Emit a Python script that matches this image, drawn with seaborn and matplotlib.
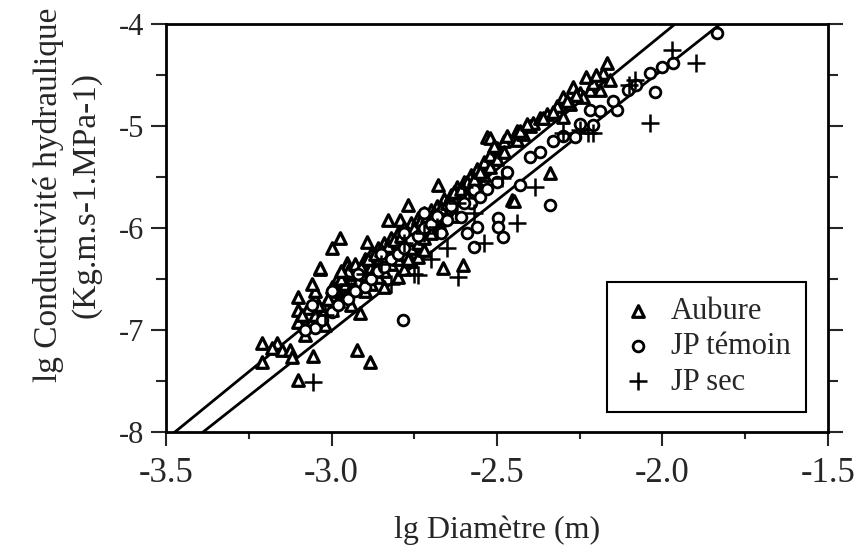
import numpy as np
import pandas as pd
import matplotlib
matplotlib.use("Agg")
import matplotlib.pyplot as plt
import seaborn as sns
from matplotlib.ticker import MultipleLocator

# --- data (lg diameter, lg conductivity) ---
aubure_x = [-3.21, -3.21, -3.165, -3.18, -3.15, -3.125, -3.12, -3.10, -3.10, -3.10, -3.10,
            -3.056, -3.08, -3.08, -3.05, -3.05, -3.05, -3.035, -3.035, -3.02, -3.02,
            -3.00, -3.00, -3.00, -2.998, -2.974, -2.98, -2.98, -2.98, -2.96, -2.96,
            -2.953, -2.953, -2.94, -2.94, -2.94, -2.923, -2.914, -2.92, -2.92,
            -2.90, -2.90, -2.90, -2.893, -2.884, -2.88, -2.88, -2.88, -2.86, -2.86, -2.86,
            -2.84, -2.84, -2.84, -2.84, -2.83, -2.82, -2.82, -2.82, -2.80, -2.80, -2.80, -2.80,
            -2.793, -2.78, -2.78, -2.78, -2.78, -2.769, -2.76, -2.76, -2.76, -2.76,
            -2.74, -2.74, -2.74, -2.74, -2.72, -2.72, -2.72, -2.72, -2.70, -2.70, -2.70,
            -2.678, -2.68, -2.68, -2.66, -2.66, -2.663, -2.64, -2.64, -2.62, -2.62,
            -2.603, -2.60, -2.60, -2.58, -2.58, -2.56, -2.56, -2.53, -2.527, -2.54, -2.54,
            -2.52, -2.52, -2.52, -2.50, -2.50, -2.48, -2.48, -2.455, -2.45, -2.44, -2.44,
            -2.42, -2.40, -2.39, -2.37, -2.34, -2.35, -2.32, -2.30, -2.30, -2.28, -2.27,
            -2.25, -2.22, -2.19, -2.18, -2.168, -2.16, -2.24, -2.21, -2.23,
            -3.07, -3.04, -3.01, -2.99, -2.97, -2.95, -2.93, -2.91, -2.89, -2.87, -2.85,
            -2.83, -2.81, -2.79, -2.77, -2.75, -2.73, -2.71, -2.69, -2.67, -2.65, -2.63,
            -2.61, -2.59, -2.57, -2.55, -3.09, -3.06, -2.97, -2.87, -2.77, -2.67, -2.63,
            -2.59, -2.51, -2.47, -2.43, -2.41, -2.36, -2.33, -2.29, -2.26, -2.20]
aubure_y = [-7.13, -7.31, -7.13, -7.18, -7.20, -7.20, -7.26, -6.68, -6.80, -6.92, -7.49,
            -7.25, -7.05, -6.95, -6.70, -6.85, -6.62, -6.40, -6.39, -6.75, -6.95,
            -6.58, -6.66, -6.80, -6.20, -6.10, -6.48, -6.62, -6.72, -6.55, -6.68,
            -6.34, -6.36, -6.45, -6.60, -6.75, -7.20, -6.83, -6.40, -6.52,
            -6.30, -6.45, -6.62, -6.14, -7.31, -6.25, -6.38, -6.55, -6.20, -6.32, -6.48,
            -6.15, -6.28, -6.42, -6.58, -5.92, -6.10, -6.22, -6.35, -6.05, -6.18, -6.30, -6.48,
            -5.92, -6.00, -6.12, -6.25, -6.40, -5.77, -5.95, -6.08, -6.20, -6.32,
            -5.90, -6.02, -6.15, -6.28, -5.85, -5.98, -6.10, -6.22, -5.82, -5.95, -6.05,
            -5.58, -5.78, -5.90, -5.72, -5.85, -6.39, -5.68, -5.80, -5.60, -5.72,
            -6.36, -5.55, -5.65, -5.48, -5.60, -5.42, -5.55, -5.11, -5.36, -5.35, -5.48,
            -5.12, -5.28, -5.40, -5.22, -5.32, -5.15, -5.25, -5.73, -5.74, -5.14, -5.05,
            -5.08, -5.00, -4.97, -4.92, -5.46, -4.88, -4.80, -4.91, -4.72, -4.78, -4.62,
            -4.68, -4.65, -4.65, -4.48, -4.38, -4.55, -4.72, -4.58, -4.52,
            -6.78, -6.75, -6.70, -6.60, -6.50, -6.42, -6.35, -6.38, -6.30, -6.25, -6.22,
            -6.18, -6.12, -6.08, -6.05, -6.00, -5.92, -5.88, -5.85, -5.80, -5.75, -5.65,
            -5.62, -5.55, -5.52, -5.45, -6.85, -6.55, -6.42, -6.40, -6.30, -6.00, -5.88,
            -5.70, -5.20, -5.10, -5.05, -4.98, -4.92, -4.86, -4.75, -4.70, -4.50]

temoin_x = [-2.784, -1.835, -1.968, -2.038, -2.023, -2.104, -2.137, -2.219, -2.264, -2.21,
            -2.34, -2.497, -2.497, -2.482, -2.43, -2.65, -2.61, -2.58, -2.56, -2.57, -2.59,
            -2.60, -2.57, -2.67, -3.05, -3.03, -3.00, -2.98, -2.95, -2.93, -2.90, -2.88,
            -2.86, -2.84, -2.82, -2.80, -2.78, -2.76, -2.74, -2.72, -2.70, -2.68, -2.55,
            -2.53, -2.50, -2.47, -2.40, -2.37, -2.33, -2.30, -2.25, -2.19, -2.15, -2.08,
            -2.00, -2.72, -2.78, -2.64, -2.85, -2.92, -3.00, -3.06, -3.08]
temoin_y = [-6.90, -4.09, -4.38, -4.48, -4.67, -4.65, -4.84, -4.84, -5.11, -4.99,
            -5.77, -5.90, -5.99, -6.09, -5.58, -5.92, -5.89, -5.75, -5.99, -6.19, -6.05,
            -5.75, -5.63, -6.05, -6.98, -6.90, -6.82, -6.75, -6.70, -6.62, -6.58, -6.50,
            -6.42, -6.38, -6.30, -6.25, -6.20, -6.12, -6.08, -6.00, -5.96, -5.88, -5.70,
            -5.62, -5.55, -5.45, -5.30, -5.25, -5.15, -5.10, -4.98, -4.85, -4.75, -4.60,
            -4.42, -5.85, -6.05, -5.78, -6.25, -6.45, -6.62, -6.75, -7.00]

sec_x = [-3.056, -2.618, -2.74, -2.75, -2.68, -2.54, -2.44, -2.385, -2.485, -2.30,
         -2.249, -2.225, -2.21, -2.083, -2.038, -1.971, -1.90, -2.10, -2.60, -2.85,
         -2.95, -2.78, -2.82, -3.02, -2.65, -2.70, -2.57, -2.90, -2.72, -2.62]
sec_y = [-7.51, -6.48, -6.46, -6.45, -5.99, -6.15, -5.95, -5.60, -5.51, -5.07,
         -5.04, -5.07, -5.07, -4.55, -4.97, -4.25, -4.38, -4.60, -5.60, -6.35,
         -6.55, -6.15, -6.55, -6.85, -6.20, -6.30, -5.85, -6.45, -6.05, -5.75]

# regression lines: intercept, slope
fit_intercepts = [1.193, 0.673]
fit_slopes = [2.647, 2.56]

df = pd.concat([
    pd.DataFrame({"x": aubure_x, "y": aubure_y, "groupe": "Aubure"}),
    pd.DataFrame({"x": temoin_x, "y": temoin_y, "groupe": "JP témoin"}),
    pd.DataFrame({"x": sec_x, "y": sec_y, "groupe": "JP sec"}),
], ignore_index=True)

sns.set_style("ticks")
plt.rcParams["font.family"] = ["Liberation Serif", "DejaVu Serif"]

fig = plt.figure(figsize=(8.62, 5.58), dpi=100)
ax = fig.add_axes([166 / 862, 1 - 432 / 558, 662 / 862, 408 / 558])

line_x = np.array([-3.6, -1.5])
for a, b in zip(fit_intercepts, fit_slopes):
    sns.lineplot(x=line_x, y=a + b * line_x, ax=ax, color="black", lw=2, zorder=2)

sns.scatterplot(data=df[df.groupe == "Aubure"], x="x", y="y", marker="^", s=70,
                facecolor="white", edgecolor="black", linewidth=2.3, ax=ax,
                label="Aubure", zorder=3)
sns.scatterplot(data=df[df.groupe == "JP témoin"], x="x", y="y", marker="o", s=60,
                facecolor="white", edgecolor="black", linewidth=2, ax=ax,
                label="JP témoin", zorder=4)
sns.scatterplot(data=df[df.groupe == "JP sec"], x="x", y="y", marker="+", s=170,
                color="black", linewidth=1.8, ax=ax, label="JP sec", zorder=5)

ax.set_xlim(-3.5, -1.5)
ax.set_ylim(-8, -4)
ax.xaxis.set_major_locator(MultipleLocator(0.5))
ax.xaxis.set_minor_locator(MultipleLocator(0.25))
ax.yaxis.set_major_locator(MultipleLocator(1))
ax.yaxis.set_minor_locator(MultipleLocator(0.5))
ax.set_xticklabels([f"{v:.1f}" for v in ax.get_xticks()])
ax.set_yticklabels([f"{int(v)}" for v in ax.get_yticks()])
ax.tick_params(axis="x", which="major", direction="out", length=10, width=1.5,
               labelsize=25, pad=8)
ax.tick_params(axis="x", which="minor", direction="out", length=5, width=1.5)
ax.tick_params(axis="y", which="major", direction="out", length=11, width=1.5,
               labelsize=22, pad=5, right=True)
ax.tick_params(axis="y", which="minor", direction="out", length=7, width=1.5, right=True)
for sp in ax.spines.values():
    sp.set_linewidth(2)
    sp.set_color("black")
ax.set_xlabel("")
ax.set_ylabel("")

fig.text(497 / 862, 1 - 530 / 558, "lg Diamètre (m)", ha="center", va="center", fontsize=23)
fig.text(67 / 862, 1 - 195 / 558, "lg Conductivité hydraulique\n(Kg.m.s-1.MPa-1)",
         rotation=90, ha="center", va="center", multialignment="center",
         fontsize=24, linespacing=1.3)

leg = ax.legend(loc="upper left", bbox_to_anchor=((607 - 166) / 662, (432 - 282) / 408),
                frameon=True, fancybox=False, framealpha=1, edgecolor="black",
                fontsize=22, handletextpad=0.6, borderpad=0.5, labelspacing=0.2,
                handlelength=1.0, borderaxespad=0)
leg.get_frame().set_linewidth(1.5)

fig.savefig("out.png", dpi=100)
